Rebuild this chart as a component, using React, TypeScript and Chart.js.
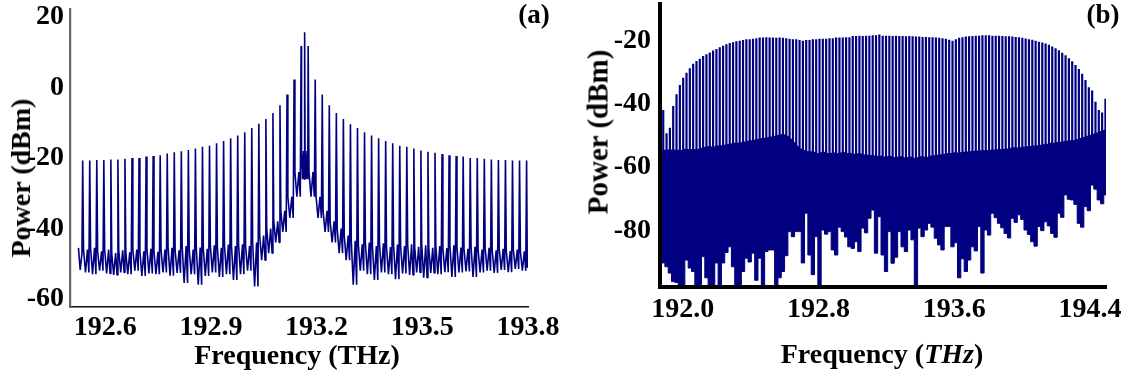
import React, { useEffect, useRef } from 'react';
import { Chart, registerables } from 'chart.js';

Chart.register(...registerables);

const NAVY = '#000080';
const FONT_FAMILY = "'Liberation Serif', 'Times New Roman', serif";

// ---------------- Panel (a) ----------------
const A_X_TICKS = [192.6, 192.9, 193.2, 193.5, 193.8];
const A_Y_TICKS = [-60, -40, -20, 0, 20];
const A_X_MIN = 192.5;
const A_X_MAX = 193.8;
const A_Y_MIN = -62.3;
const A_Y_MAX = 22.3;
const A_COMB_START = 192.536; // THz, first comb line
const A_COMB_STEP = 0.02; // THz, comb spacing
const A_CENTER_LINE = 193.166; // THz, extra central line

const A_PEAKS_LEFT = [
  -20.7, -20.7, -20.6, -20.6, -20.4, -20.4, -20.2, -20.0, -20.0, -19.6, -19.4, -19.2, -18.7, -18.4, -18.1, -17.7,
  -17.3, -16.8, -16.5, -15.8, -15.2, -14.4, -13.6, -12.7, -11.5, -10.3, -8.9, -7.2, -5.0, -2.0, 2.3, 11.8,
];
const A_PEAK_CENTER = 15.7;
const A_PEAKS_RIGHT = [
  11.8, 2.3, -2.0, -5.0, -7.2, -8.9, -10.4, -11.5, -12.7, -13.6, -14.4, -15.2, -15.8, -16.5, -16.8, -17.3,
  -17.9, -18.2, -18.5, -18.9, -19.2, -19.4, -19.6, -20.0, -20.0, -20.2, -20.4, -20.6, -20.6, -20.7, -20.7, -20.7,
];
// noise floor between neighbouring lines (64 gaps)
const A_FLOOR_LOW = [
  -52.5, -53.0, -52.0, -52.8, -53.2, -52.5, -53.0, -52.0, -53.5, -52.8, -53.0, -52.5, -53.4, -52.6, -55.5, -53.0,
  -56.0, -53.5, -52.5, -53.8, -53.0, -54.6, -53.0, -52.0, -56.5, -49.0, -47.0, -44.0, -41.0, -37.0, -31.0, -26.0,
  -26.0, -31.0, -37.0, -41.0, -44.0, -47.0, -49.0, -56.0, -52.0, -53.0, -54.6, -52.5, -53.0, -54.4, -52.8, -53.2,
  -52.5, -54.0, -52.6, -53.0, -52.4, -53.8, -52.5, -52.2, -53.8, -52.5, -52.0, -52.6, -51.8, -52.4, -51.5, -52.0,
];
const A_FLOOR_HIGH = [
  -46.0, -45.5, -46.5, -46.0, -47.0, -46.2, -46.8, -46.0, -46.5, -45.8, -46.6, -46.0, -45.5, -46.2, -45.0, -46.0,
  -45.4, -45.8, -44.8, -45.5, -44.6, -45.0, -44.5, -45.0, -44.0, -42.0, -40.0, -38.0, -35.0, -31.0, -24.0, -18.0,
  -18.0, -24.0, -31.0, -35.0, -38.0, -40.0, -42.0, -43.5, -44.5, -44.0, -45.0, -44.2, -45.3, -44.6, -45.0, -44.5,
  -45.2, -44.8, -45.5, -45.0, -45.6, -44.8, -45.4, -45.8, -45.2, -46.0, -45.5, -46.2, -45.8, -46.4, -46.0, -46.5,
];
const A_LEAD = [-45.5, -51.8, -47.0];
const A_TAIL = [-51.0, -48.0];

// ---------------- Panel (b) ----------------
const B_X_TICKS = [192.0, 192.8, 193.6, 194.4];
const B_Y_TICKS = [-80, -60, -40, -20];
const B_X_MIN = 191.863;
const B_X_MAX = 194.495;
const B_Y_MIN = -97.9;
const B_Y_MAX = -8.5;
const B_COMB_START = 191.885;
const B_COMB_STEP = 0.0196;

const B_PEAKS = [
  -42.0, -49.3, -47.6, -40.7, -37.0, -34.1, -31.8, -30.2, -28.8, -27.4, -26.5, -25.8, -24.9, -24.4, -23.8, -23.2,
  -22.7, -22.2, -21.7, -21.2, -20.8, -20.6, -20.3, -20.1, -19.9, -19.6, -19.6, -19.5, -19.3,
  -19.1, -19.1, -19.0, -19.1, -19.1, -19.2, -19.1, -19.2,
  -19.3, -19.5, -19.6, -19.6, -19.9, -20.1, -19.9, -19.9, -19.6, -19.6, -19.5, -19.5, -19.5, -19.3, -19.3, -19.1,
  -19.1, -19.1, -19.0, -19.0,
  -18.6, -18.6, -18.5, -18.6, -18.5, -18.5, -18.4, -18.4, -18.1, -18.5, -18.5, -18.5, -18.6, -18.5, -18.6, -18.6,
  -18.7, -18.6, -18.7, -18.8, -18.8, -18.9, -18.9, -19.0, -19.0, -19.1, -19.2, -19.3, -19.5,
  -19.8, -20.1, -19.6,
  -19.2, -19.0, -18.8, -18.7, -18.6, -18.5, -18.5, -18.4, -18.4, -18.4, -18.5, -18.5, -18.5, -18.6, -18.7, -18.7, -18.8,
  -18.9, -19.0, -19.2, -19.4, -19.6, -19.8, -20.1, -20.4, -20.7, -21.0, -21.4, -21.9, -22.5, -23.1, -23.9, -24.7,
  -25.6, -26.6, -27.8, -29.0, -30.5, -32.5, -34.8, -35.8, -39.4, -42.0, -42.8, -38.4,
];
const B_FLOOR_TOP = [
  -54.8, -55.0, -54.6, -55.0, -54.7, -55.1, -54.8, -54.5, -54.9, -54.6, -54.8, -54.4, -54.2,
  -53.8, -53.7, -54.0, -53.6, -53.5, -53.4, -53.2, -53.0,
  -52.8, -52.6, -52.7, -52.4, -52.2, -52.0, -51.8, -51.6,
  -51.3, -51.1, -51.0, -50.8, -50.6, -50.4, -50.0, -49.9, -50.2, -51.0, -52.0, -53.3, -54.3, -54.8,
  -55.2, -55.5, -55.3, -55.8, -56.0, -55.4, -55.7, -56.2, -55.6, -55.9, -56.1, -55.5, -55.8, -56.0,
  -56.0, -56.3, -55.8, -56.5, -56.2, -56.8, -56.4, -57.0, -56.6, -56.9, -57.2, -56.7, -57.0, -57.4, -56.8,
  -57.1, -57.5, -56.9, -57.2, -57.6, -57.0, -56.8, -57.3, -56.9, -56.5, -56.8, -56.2, -56.5, -56.0, -55.8,
  -55.9, -55.6, -56.0, -55.4, -55.7, -55.2, -55.5, -55.0, -55.3, -54.9, -55.2, -54.8, -55.0, -54.6, -54.9,
  -54.5, -54.7, -54.3,
  -54.2, -54.0, -54.3, -53.8, -54.0, -53.6, -53.8, -53.4, -53.5, -53.1, -53.2, -52.8,
  -52.6, -52.7, -52.3, -52.4, -52.0, -52.1, -51.7, -51.8, -51.3, -51.0, -50.7, -50.3, -50.0, -49.6, -49.2,
  -48.8, -48.5,
];
const B_FLOOR_BOTTOM = [
  -90.3, -91.5, -93.5, -96.2, -96.5, -98.0, -98.0, -89.4, -91.9, -93.0, -98.0, -98.0, -88.3, -95.0, -98.0, -98.0,
  -90.3, -98.0, -90.3, -87.0, -85.2, -91.5, -98.0, -98.0, -93.0, -88.8, -90.0, -87.2, -95.8, -88.8, -98.0, -86.7,
  -86.2, -86.2, -98.0, -95.0, -93.0, -88.0, -80.4, -82.0, -80.4, -80.4, -90.3,
  -74.6, -87.8, -94.0, -82.0, -98.0, -79.9, -81.2, -80.4, -86.2, -87.8, -79.0, -80.4, -82.1, -85.2, -85.7, -83.6,
  -86.7, -79.3, -80.8, -76.2, -73.6, -87.2, -75.7, -87.8, -93.0, -80.4, -90.4, -88.5, -80.4, -85.2, -86.7, -79.9,
  -83.0, -98.0, -79.3, -82.0, -79.9, -77.8, -79.0, -82.5, -84.6, -86.2, -78.8,
  -78.8, -85.2, -83.9, -95.0, -89.0, -93.0, -89.4, -85.2, -86.5, -78.8, -93.5, -79.9, -81.5, -74.6, -76.0, -77.8,
  -79.2, -81.0, -82.4, -76.2, -77.5, -75.1, -76.6, -79.9, -81.3, -83.6, -85.0, -78.8, -80.1, -77.3, -78.6, -81.0,
  -82.2, -74.6, -75.9, -68.8, -70.2, -70.4, -71.8, -77.8, -79.0, -72.5, -73.8, -65.7, -67.0, -70.4, -71.6, -68.8,
];

type Pt = { x: number; y: number };

function buildTraceA(): Pt[] {
  const freqs: number[] = [];
  A_PEAKS_LEFT.forEach((_, k) => freqs.push(A_COMB_START + k * A_COMB_STEP));
  freqs.push(A_CENTER_LINE);
  A_PEAKS_RIGHT.forEach((_, k) => freqs.push(A_COMB_START + (A_PEAKS_LEFT.length + k) * A_COMB_STEP));
  const peaks = [...A_PEAKS_LEFT, A_PEAK_CENTER, ...A_PEAKS_RIGHT];
  const pts: Pt[] = [];
  const f0 = freqs[0];
  pts.push({ x: f0 - 0.6 * A_COMB_STEP, y: A_LEAD[0] });
  pts.push({ x: f0 - 0.35 * A_COMB_STEP, y: A_LEAD[1] });
  pts.push({ x: f0 - 0.1 * A_COMB_STEP, y: A_LEAD[2] });
  for (let i = 0; i < freqs.length; i++) {
    pts.push({ x: freqs[i], y: peaks[i] });
    if (i < freqs.length - 1) {
      const g = freqs[i + 1] - freqs[i];
      const lo = A_FLOOR_LOW[i];
      const hi = A_FLOOR_HIGH[i];
      pts.push({ x: freqs[i] + 0.12 * g, y: hi });
      pts.push({ x: freqs[i] + 0.4 * g, y: lo });
      pts.push({ x: freqs[i] + 0.68 * g, y: hi });
      pts.push({ x: freqs[i] + 0.88 * g, y: lo });
    }
  }
  const fl = freqs[freqs.length - 1];
  pts.push({ x: fl + 0.1 * A_COMB_STEP, y: A_TAIL[0] });
  pts.push({ x: fl + 0.18 * A_COMB_STEP, y: A_TAIL[1] });
  return pts;
}

function buildB() {
  const freqs = B_PEAKS.map((_, i) => B_COMB_START + i * B_COMB_STEP);
  const comb: Pt[] = [];
  freqs.forEach((f, i) => {
    comb.push({ x: f, y: B_FLOOR_TOP[i] });
    comb.push({ x: f, y: B_PEAKS[i] });
    comb.push({ x: f, y: B_FLOOR_TOP[i] });
  });
  const top: Pt[] = [{ x: B_X_MIN, y: B_FLOOR_TOP[0] }];
  const bottom: Pt[] = [{ x: B_X_MIN, y: B_FLOOR_BOTTOM[0] }];
  freqs.forEach((f, i) => {
    top.push({ x: f, y: B_FLOOR_TOP[i] });
    bottom.push({ x: f, y: B_FLOOR_BOTTOM[i] });
  });
  top.push({ x: B_X_MAX, y: B_FLOOR_TOP[B_FLOOR_TOP.length - 1] });
  bottom.push({ x: B_X_MAX, y: B_FLOOR_BOTTOM[B_FLOOR_BOTTOM.length - 1] });
  return { comb, top, bottom };
}

const tickFont = { family: FONT_FAMILY, size: 28, weight: 'bold' as const };

function zeroPad(s: any) {
  s.paddingTop = 0;
  s.paddingBottom = 0;
  s.paddingLeft = 0;
  s.paddingRight = 0;
}

function PanelA() {
  const ref = useRef<HTMLCanvasElement>(null);
  useEffect(() => {
    if (!ref.current) return;
    const chart = new Chart(ref.current, {
      type: 'line',
      data: {
        datasets: [
          {
            data: buildTraceA(),
            borderColor: NAVY,
            borderWidth: 1.6,
            pointRadius: 0,
            tension: 0,
            fill: false,
            borderJoinStyle: 'bevel',
          },
        ],
      },
      options: {
        animation: false,
        responsive: false,
        events: [],
        plugins: { legend: { display: false }, tooltip: { enabled: false } },
        layout: { padding: { top: 9, right: 32, left: 0, bottom: 0 } },
        scales: {
          x: {
            type: 'linear',
            min: A_X_MIN,
            max: A_X_MAX,
            afterBuildTicks: (s: any) => {
              s.ticks = A_X_TICKS.map((v) => ({ value: v }));
            },
            afterFit: (s: any) => {
              s.height = 71;
              zeroPad(s);
            },
            grid: { display: false, drawTicks: false },
            border: { display: true, color: '#111', width: 1.6, z: 1 },
            ticks: {
              color: '#000',
              font: tickFont,
              padding: 4,
              maxRotation: 0,
              autoSkip: false,
              callback: (v: any) => Number(v).toFixed(1),
            },
          },
          y: {
            type: 'linear',
            min: A_Y_MIN,
            max: A_Y_MAX,
            afterBuildTicks: (s: any) => {
              s.ticks = A_Y_TICKS.map((v) => ({ value: v }));
            },
            afterFit: (s: any) => {
              s.width = 70;
              zeroPad(s);
            },
            grid: { display: false, drawTicks: false },
            border: { display: true, color: '#666', width: 2.2, z: 1 },
            ticks: {
              color: '#000',
              font: tickFont,
              padding: 6,
              callback: (v: any) => String(v),
            },
          },
        },
      },
    } as any);
    return () => chart.destroy();
  }, []);
  return <canvas ref={ref} width={560} height={378} style={{ position: 'absolute', left: 0, top: 0 }} />;
}

function PanelB() {
  const ref = useRef<HTMLCanvasElement>(null);
  useEffect(() => {
    if (!ref.current) return;
    const { comb, top, bottom } = buildB();
    const chart = new Chart(ref.current, {
      type: 'line',
      data: {
        datasets: [
          {
            data: comb,
            borderColor: NAVY,
            borderWidth: 2.2,
            pointRadius: 0,
            tension: 0,
            fill: false,
            borderJoinStyle: 'bevel',
          },
          {
            data: top,
            borderColor: NAVY,
            borderWidth: 1,
            backgroundColor: NAVY,
            pointRadius: 0,
            tension: 0,
            fill: '+1',
          },
          {
            data: bottom,
            borderColor: NAVY,
            borderWidth: 1,
            pointRadius: 0,
            tension: 0,
            stepped: 'middle',
            fill: false,
          },
        ],
      },
      options: {
        animation: false,
        responsive: false,
        events: [],
        plugins: { legend: { display: false }, tooltip: { enabled: false } },
        layout: { padding: { top: 4, right: 23, left: 0, bottom: 0 } },
        scales: {
          x: {
            type: 'linear',
            min: B_X_MIN,
            max: B_X_MAX,
            afterBuildTicks: (s: any) => {
              s.ticks = B_X_TICKS.map((v) => ({ value: v }));
            },
            afterFit: (s: any) => {
              s.height = 91;
              zeroPad(s);
            },
            grid: { display: false, drawTicks: false },
            border: { display: true, color: '#000', width: 4, z: 1 },
            ticks: {
              color: '#000',
              font: tickFont,
              padding: 6,
              maxRotation: 0,
              autoSkip: false,
              callback: (v: any) => Number(v).toFixed(1),
            },
          },
          y: {
            type: 'linear',
            min: B_Y_MIN,
            max: B_Y_MAX,
            afterBuildTicks: (s: any) => {
              s.ticks = B_Y_TICKS.map((v) => ({ value: v }));
            },
            afterFit: (s: any) => {
              s.width = 99.5;
              zeroPad(s);
            },
            grid: { display: false, drawTicks: false },
            border: { display: true, color: '#000', width: 4, z: 1 },
            ticks: {
              color: '#000',
              font: tickFont,
              padding: 8.5,
              callback: (v: any) => String(v),
            },
          },
        },
      },
    } as any);
    return () => chart.destroy();
  }, []);
  return <canvas ref={ref} width={569} height={378} style={{ position: 'absolute', left: 560, top: 0 }} />;
}

function Label(props: { cx: number; cy: number; size: number; rotate?: boolean; children: React.ReactNode }) {
  const { cx, cy, size, rotate, children } = props;
  return (
    <div
      style={{
        position: 'absolute',
        left: cx,
        top: cy,
        transform: `translate(-50%, -50%)${rotate ? ' rotate(-90deg)' : ''}`,
        whiteSpace: 'nowrap',
        lineHeight: 1,
        fontFamily: FONT_FAMILY,
        fontWeight: 'bold',
        fontSize: size,
        color: '#000',
      }}
    >
      {children}
    </div>
  );
}

export default function App() {
  return (
    <div style={{ position: 'absolute', left: 0, top: 0, width: 1129, height: 378, background: '#fff', overflow: 'hidden' }}>
      <PanelA />
      <PanelB />
      <Label cx={534} cy={14} size={27}>(a)</Label>
      <Label cx={1103} cy={14} size={27}>(b)</Label>
      <Label cx={21} cy={178} size={28} rotate>Power (dBm)</Label>
      <Label cx={297} cy={355} size={28}>Frequency (THz)</Label>
      <Label cx={598} cy={132} size={29} rotate>Power (dBm)</Label>
      <Label cx={882} cy={354} size={28}>
        Frequency (<i>THz</i>)
      </Label>
    </div>
  );
}
